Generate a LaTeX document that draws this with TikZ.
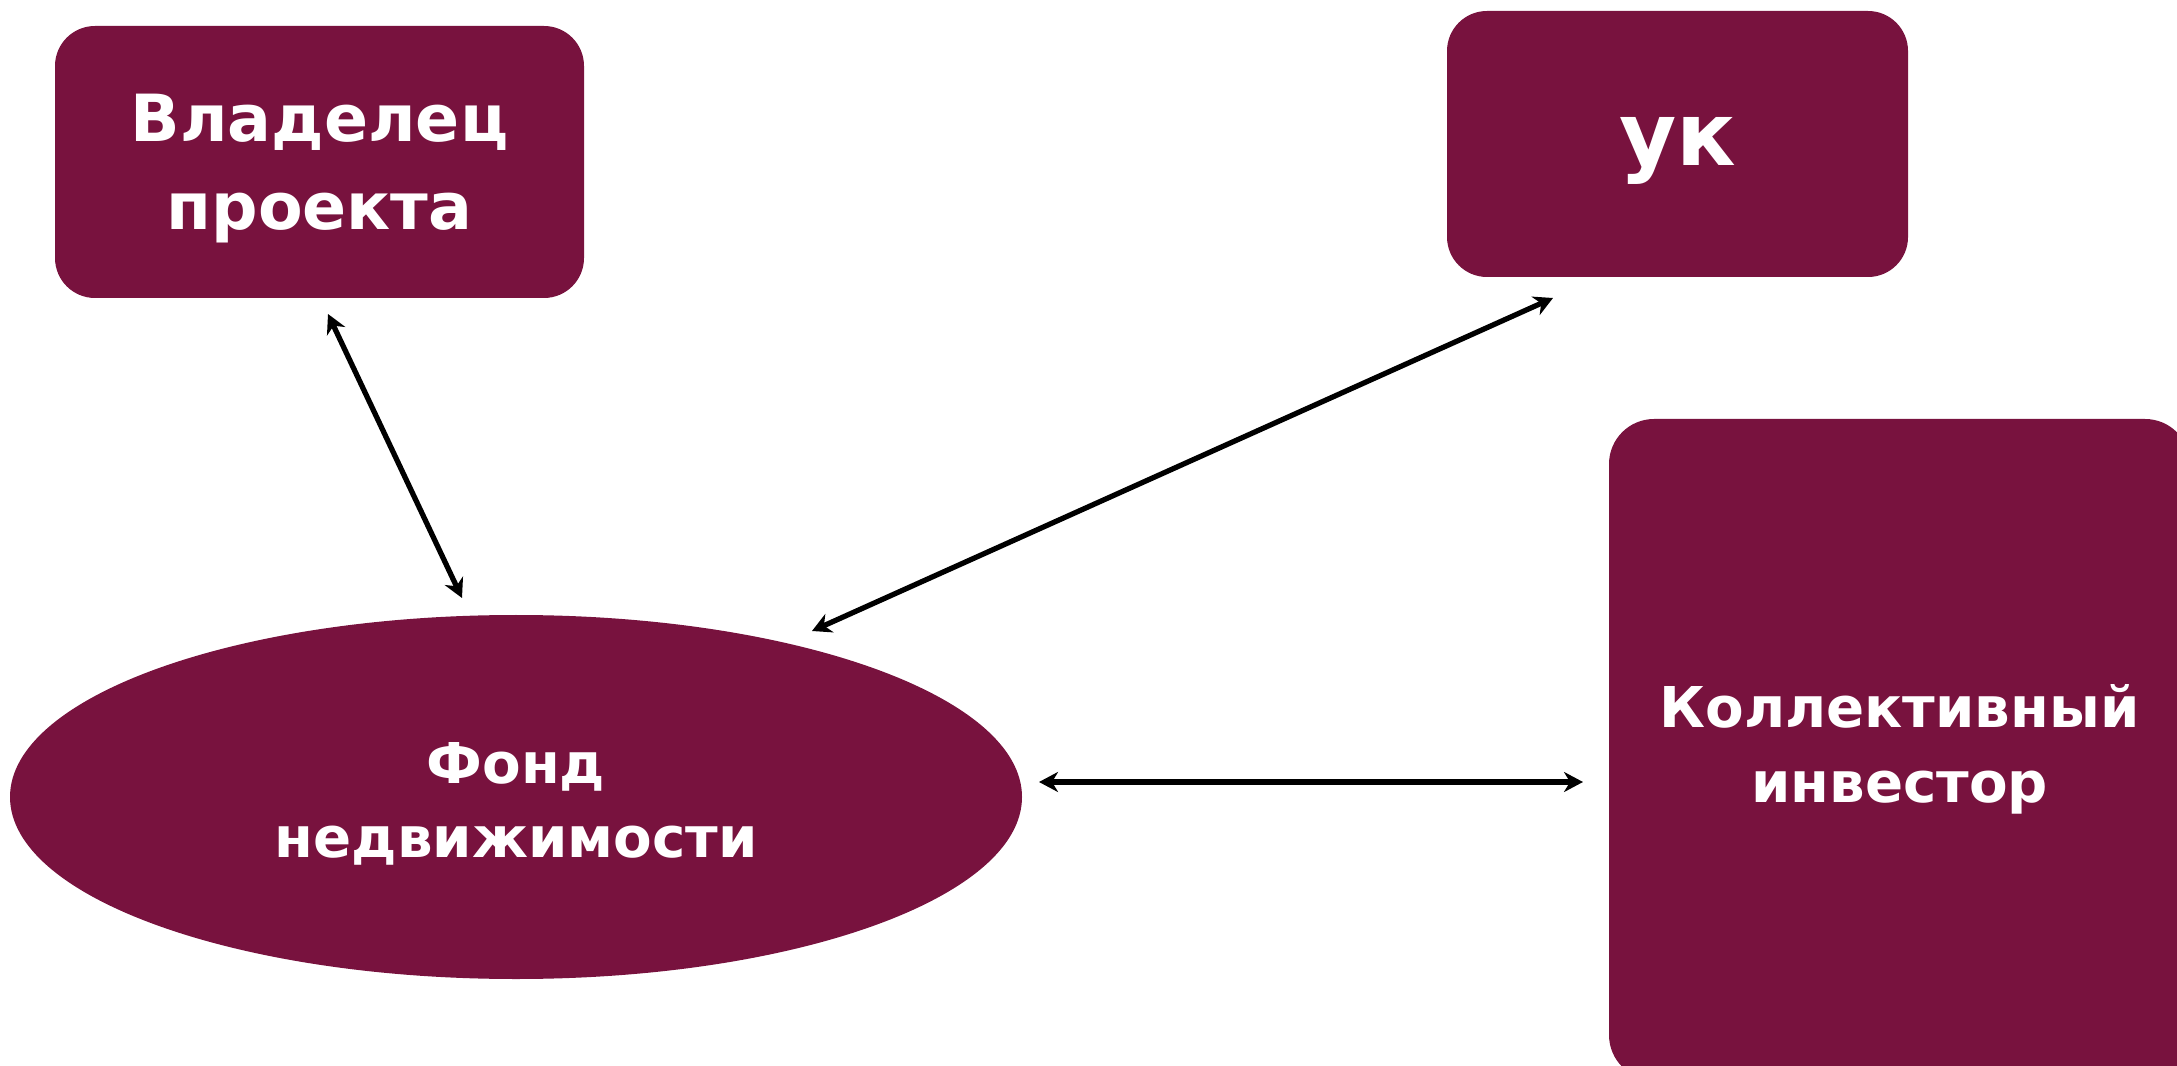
\documentclass[tikz,border=0pt]{standalone}
\usepackage{fontspec}
\setmainfont{DejaVu Sans}
\usetikzlibrary{shapes.geometric,arrows.meta}
\definecolor{wine}{HTML}{78123E}
\newcommand{\nudge}[1]{\raisebox{-0.07cm}[\height][\depth]{#1}}

\begin{document}
\begin{tikzpicture}[
		block/.style={fill=wine, rounded corners=0.4cm, text=white, align=center, font=\bfseries, inner sep=0pt},
		link/.style={arrows={Stealth[length=0.19cm,width=0.2cm,inset=0.06cm]-Stealth[length=0.19cm,width=0.2cm,inset=0.06cm]}, line width=1.5pt}
	]
			\useasboundingbox (0,0) rectangle (21.77,-10.66); % Canvas
			\clip (0,0) rectangle (21.77,-10.66);
			\node[block, minimum width=5.29cm, minimum height=2.72cm, font=\bfseries\fontsize{18.5}{25}\selectfont] (owner) at (3.195,-1.62) {\nudge{Владелец}\\\nudge{проекта}}; % Box top left
			\node[block, minimum width=4.61cm, minimum height=2.66cm, font=\bfseries\fontsize{25}{30}\selectfont] (uk) at (16.775,-1.44) {\nudge{ук}}; % Box top right
			\node[block, rounded corners=0.45cm, minimum width=5.81cm, minimum height=6.61cm, font=\bfseries\fontsize{16}{21.3}\selectfont] (investor) at (18.995,-7.495) {Коллективный\\инвестор}; % Box bottom right
			\node[ellipse, fill=wine, text=white, align=center, inner sep=0pt, minimum width=10.12cm, minimum height=3.64cm, font=\bfseries\fontsize{16}{21}\selectfont] (fund) at (5.16,-7.97) {\nudge{Фонд}\\\nudge{недвижимости}}; % Ellipse
			\coordinate (ownerEnd) at (3.28,-3.14);
			\coordinate (fundTop) at (4.62,-5.98);
			\coordinate (fundRight) at (8.12,-6.31);
			\coordinate (ukEnd) at (15.53,-2.98);
			\coordinate (fundSide) at (10.39,-7.82);
			\coordinate (investorEnd) at (15.83,-7.82);
			\draw[link] (ownerEnd) -- (fundTop); % owner <-> fund
			\draw[link] (fundRight) -- (ukEnd); % fund <-> uk
			\draw[link] (fundSide) -- (investorEnd); % fund <-> investor
		\end{tikzpicture}
\end{document}
